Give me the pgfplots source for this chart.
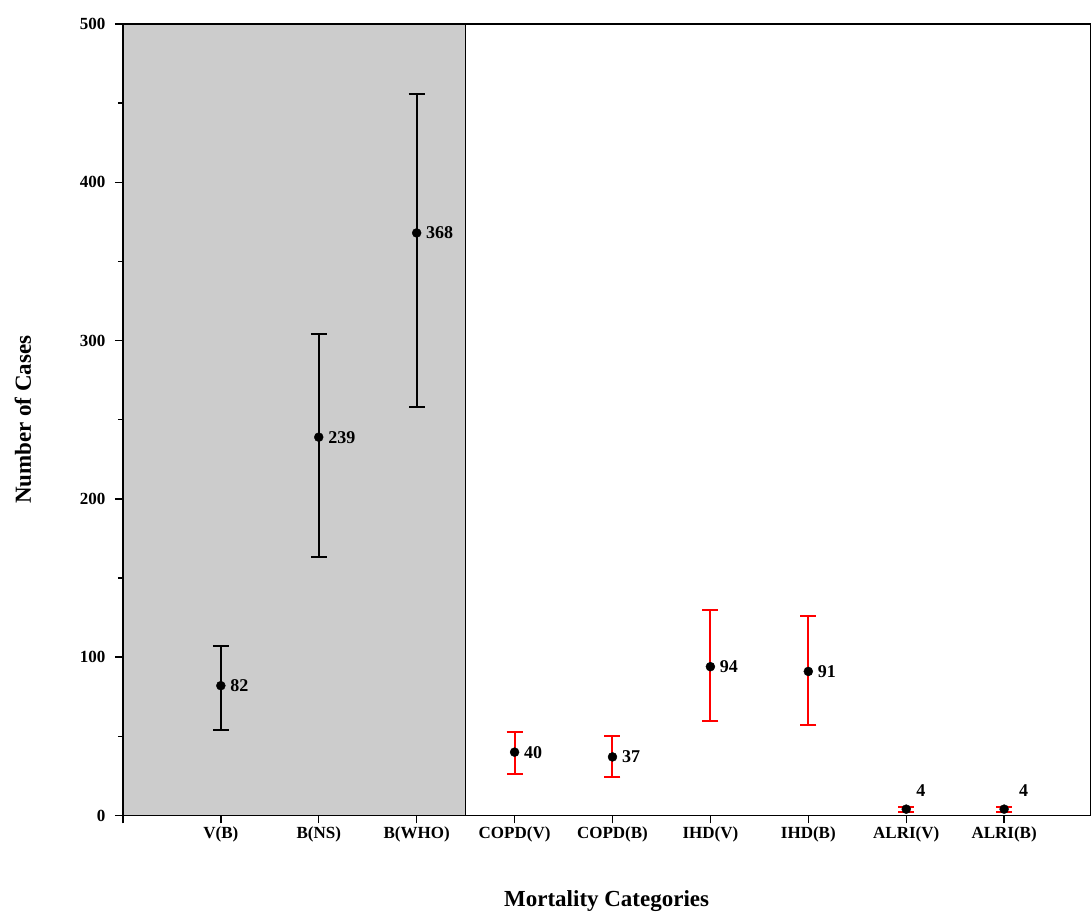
\documentclass[border=0pt]{standalone}
\usepackage{pgfplots}
\pgfplotsset{compat=1.18}
\usepackage{fontspec}
\setmainfont{Liberation Serif}
\tikzset{lbl/.style={anchor=west, font=\bfseries\fontsize{18}{21}\selectfont, xshift=6pt}}
\begin{document}
\begin{tikzpicture}[x=1pt,y=1pt]
\path (-123,-100) rectangle (968,816);
\begin{axis}[
  at={(0,0)}, anchor=south west,
  scale only axis, width=968pt, height=792pt,
  xmin=-1, xmax=8.88, ymin=0, ymax=500,
  xtick={-1,0,1,2,3,4,5,6,7,8},
  xticklabels={,V(B),B(NS),B(WHO),COPD(V),COPD(B),IHD(V),IHD(B),ALRI(V),ALRI(B)},
  ytick={0,100,200,300,400,500},
  minor ytick={50,150,250,350,450},
  tick align=outside, tick pos=left,
  major tick length=8pt, minor tick length=5pt,
  every tick/.style={black, line width=1.4pt},
  axis line style={line width=1.4pt},
  tick label style={font=\bfseries\fontsize{17}{20}\selectfont},
  yticklabel style={xshift=-6pt},
  /pgf/number format/assume math mode=true,
  xlabel={\bfseries Mortality Categories},
  label style={font=\bfseries\fontsize{23}{27}\selectfont},
  xlabel style={at={(axis description cs:0.5,0)}, anchor=center, yshift=-86pt},
  clip=false,
  axis on top,
]
\fill[gray!40] (axis cs:-1,0) rectangle (axis cs:2.5,500);
\draw[black, line width=0.8pt] (axis cs:2.5,0) -- (axis cs:2.5,500);
\addplot[black, only marks, mark=*, mark size=4.5pt,
  error bars/.cd, y dir=both, y explicit, error bar style={black, line width=2pt},
  error mark options={black, rotate=90, mark size=8pt, line width=2pt}]
  table[x=x,y=y,y error plus=ep,y error minus=em] {
x y ep em
0 82 25 28
1 239 65 76
2 368 88 110
};
\addplot[black, only marks, mark=*, mark size=4.5pt,
  error bars/.cd, y dir=both, y explicit, error bar style={red, line width=2pt},
  error mark options={red, rotate=90, mark size=8pt, line width=2pt}]
  table[x=x,y=y,y error plus=ep,y error minus=em] {
x y ep em
3 40 13 14
4 37 13 13
5 94 36 34
6 91 35 34
7 4 1.5 1.5
8 4 1.5 1.5
};
\node[lbl] at (axis cs:0,82) {82};
\node[lbl] at (axis cs:1,239) {239};
\node[lbl] at (axis cs:2,368) {368};
\node[lbl] at (axis cs:3,40) {40};
\node[lbl] at (axis cs:4,37) {37};
\node[lbl] at (axis cs:5,94) {94};
\node[lbl] at (axis cs:6,91) {91};
\node[anchor=south, font=\bfseries\fontsize{18}{21}\selectfont] at (axis cs:7.15,10) {4};
\node[anchor=south, font=\bfseries\fontsize{18}{21}\selectfont] at (axis cs:8.2,10) {4};
\end{axis}
\node[rotate=90, font=\bfseries\fontsize{23}{27}\selectfont] at (-100,396) {Number of Cases};
\end{tikzpicture}
\end{document}
